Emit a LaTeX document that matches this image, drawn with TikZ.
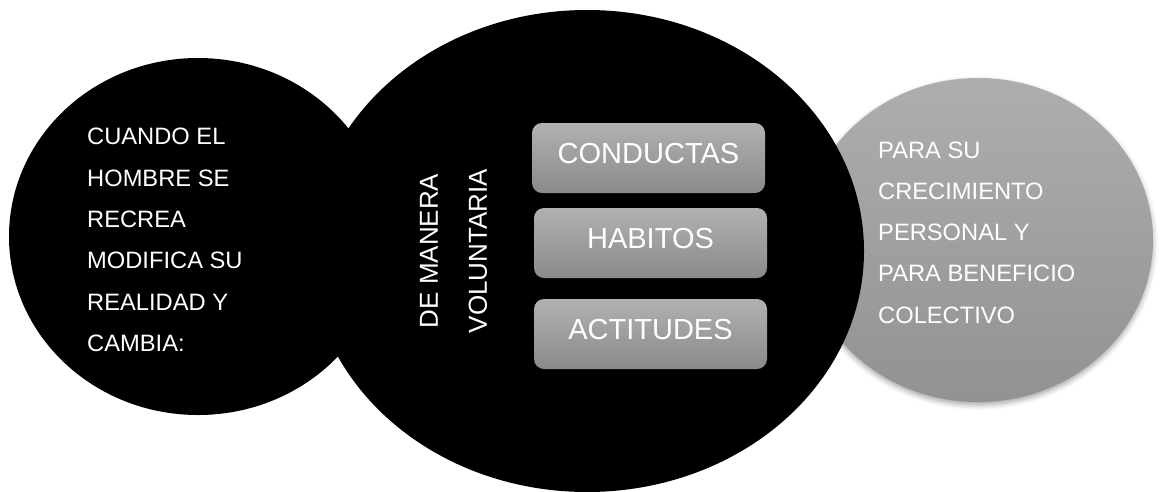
\documentclass[tikz,border=0pt]{standalone}
\usepackage{fontspec}
\setmainfont{Liberation Sans}
\usetikzlibrary{shapes.geometric,shadows.blur}
\definecolor{greytop}{RGB}{174,174,174}
\definecolor{greybot}{RGB}{146,146,146}
\definecolor{boxtop}{RGB}{177,177,177}
\definecolor{boxbot}{RGB}{138,138,138}
\begin{document}
\begin{tikzpicture}[x=1pt,y=-1pt,
  blob/.style={ellipse, fill=black, draw=none, inner sep=0pt},
  greyblob/.style={ellipse, draw=none, inner sep=0pt, top color=greytop, bottom color=greybot,
    blur shadow={shadow xshift=0pt, shadow yshift=-3pt, shadow blur radius=5pt, shadow opacity=35}},
  box/.style={rounded corners=10pt, minimum width=233pt, minimum height=70pt, inner sep=0pt,
    top color=boxtop, bottom color=boxbot, text=white, text depth=10pt,
    font=\fontsize{29}{34}\selectfont},
  bodytext/.style={align=left, text=white, inner sep=0pt, anchor=west,
    font=\fontsize{23.7}{41.3}\selectfont},
  verttext/.style={align=center, text=white, inner sep=0pt, rotate=90,
    font=\fontsize{26}{49}\selectfont}]
\useasboundingbox (0,0) rectangle (1161,491);
\begin{scope}
\clip (0,0) rectangle (1161,491);
\node[greyblob, minimum width=350pt, minimum height=324pt] (right) at (978,240) {};
\node[blob, minimum width=378pt, minimum height=357pt] (left) at (198,236.5) {};
\node[blob, minimum width=554pt, minimum height=482pt] (mid) at (587,251) {};
\end{scope}
\node[box] (b1) at (648.5,158) {CONDUCTAS};
\node[box] (b2) at (650.5,243) {HABITOS};
\node[box] (b3) at (650.5,334) {ACTITUDES};
\node[verttext] (vert) at (453.5,251) {DE MANERA\\VOLUNTARIA};
\node[bodytext] (ltext) at (87,240) {CUANDO EL\\HOMBRE SE\\RECREA\\MODIFICA SU\\REALIDAD Y\\CAMBIA:};
\node[bodytext] (rtext) at (878,232.5) {PARA SU\\CRECIMIENTO\\PERSONAL Y\\PARA BENEFICIO\\COLECTIVO};
\end{tikzpicture}
\end{document}
